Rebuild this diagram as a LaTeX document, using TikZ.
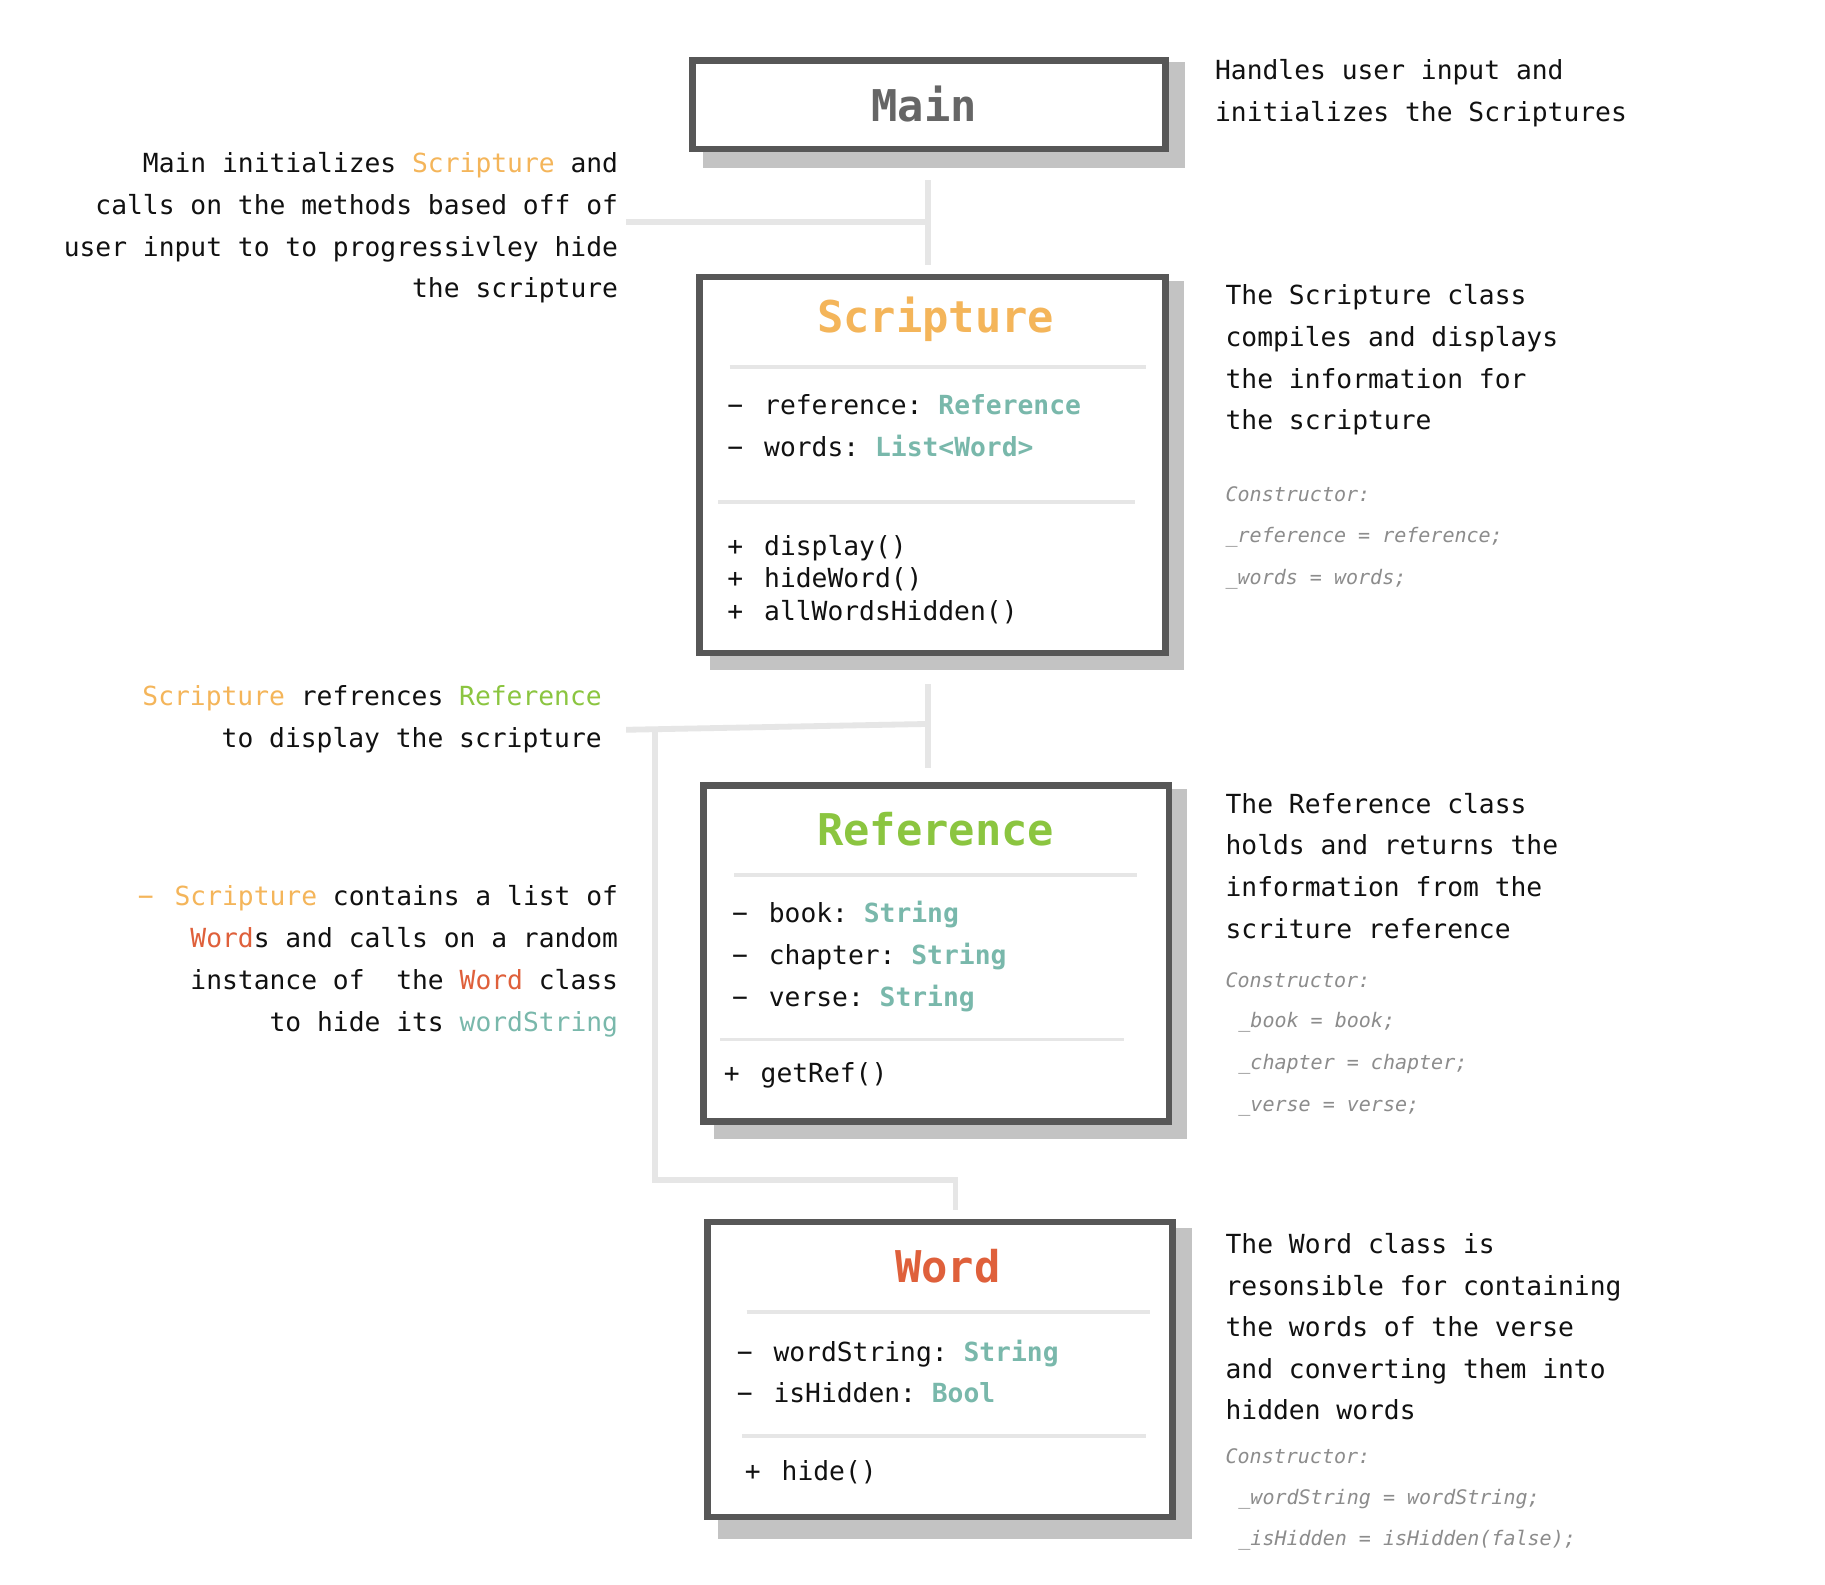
\documentclass[tikz,border=0pt]{standalone}
\usepackage{fontspec}
\setmonofont{DejaVu Sans Mono}
\usetikzlibrary{calc,backgrounds}
\definecolor{boxline}{HTML}{575757}
\definecolor{shadowc}{HTML}{C3C3C3}
\definecolor{sepc}{HTML}{E6E6E6}
\definecolor{connc}{HTML}{E6E6E6}
\definecolor{orng}{HTML}{F4B55A}
\definecolor{grn}{HTML}{8BC540}
\definecolor{tealc}{HTML}{79B8AB}
\definecolor{redw}{HTML}{DF603B}
\definecolor{maingray}{HTML}{666666}
\definecolor{consc}{HTML}{8C8C8C}
\definecolor{ink}{HTML}{111111}
\newcommand{\bul}[1]{\makebox[15.8pt][l]{#1}}
\newcommand{\ty}[1]{\textcolor{tealc}{\bfseries #1}}
\tikzset{
  boxst/.style={draw=boxline, line width=2.8pt, fill=white, rectangle, inner sep=0pt},
  shad/.style={fill=shadowc},
  conn/.style={draw=connc, line width=2.5pt},
  sepl/.style={draw=sepc, line width=1.6pt},
  txt/.style={inner sep=0pt, outer sep=0pt, text=ink, font=\ttfamily\fontsize{11.3}{13.6}\selectfont},
  ttl/.style={inner sep=0pt, outer sep=0pt, anchor=base, font=\ttfamily\bfseries\fontsize{18.8}{22}\selectfont},
  cons/.style={inner sep=0pt, outer sep=0pt, anchor=base west, text=consc, font=\ttfamily\itshape\fontsize{8.6}{10}\selectfont},
  lw/.style={txt, anchor=base west},
  le/.style={txt, anchor=base east},
}
\begin{document}
\begin{tikzpicture}[x=0.5pt,y=-0.5pt]
\useasboundingbox (0,0) rectangle (1568,1361);

% ---------- class boxes ----------
\node[boxst, minimum width=203.2pt, minimum height=38.2pt] (main) at (798,90) {};
\node[boxst, minimum width=200.2pt, minimum height=161.7pt] (scr) at (801,399.5) {};
\node[boxst, minimum width=199.95pt, minimum height=144.45pt] (ref) at (804.25,819.25) {};
\node[boxst, minimum width=199.7pt, minimum height=126.7pt] (wrd) at (807.5,1176.5) {};

\begin{scope}[on background layer]
  \fill[white] (0,0) rectangle (1568,1361);
  \fill[shad] ($(main.north west)+(12,4)$) rectangle ($(main.south east)+(14,13)$);
  \fill[shad] ($(scr.north west)+(12,6)$) rectangle ($(scr.south east)+(13,12)$);
  \fill[shad] ($(ref.north west)+(12,6)$) rectangle ($(ref.south east)+(13,12)$);
  \fill[shad] ($(wrd.north west)+(12,8)$) rectangle ($(wrd.south east)+(14,16)$);
\end{scope}

% ---------- connectors ----------
\coordinate (c1t) at (797,155);
\coordinate (c1b) at (797,228);
\coordinate (c1l) at (538,191);
\coordinate (c1m) at (797,191);
\draw[conn] (c1t) -- (c1b);
\draw[conn] (c1l) -- (c1m);

\coordinate (c2t) at (797,588);
\coordinate (c2b) at (797,660);
\coordinate (c2l) at (538,627);
\coordinate (c2m) at (797,622);
\coordinate (c2j) at (563,626);
\coordinate (c2d) at (563,1014);
\coordinate (c2r) at (821,1014);
\coordinate (c2e) at (821,1040);
\draw[conn] (c2t) -- (c2b);
\draw[conn] (c2l) -- (c2m);
\draw[conn] (c2j) -- (c2d) -- (c2r) -- (c2e);

% ---------- Main ----------
\node[ttl, text=maingray] (mainT) at (794,104.5) {Main};
\node[lw] (mr1) at (1044,68) {Handles user input and};
\node[lw] (mr2) at (1044,104) {initializes the Scriptures};

\node[le] (l11) at (531,148) {Main initializes \textcolor{orng}{Scripture} and};
\node[le] (l12) at (531,184) {calls on the methods based off of};
\node[le] (l13) at (531,220) {user input to to progressivley hide};
\node[le] (l14) at (531,256) {the scripture};

% ---------- Scripture ----------
\node[ttl, text=orng] (scrT) at (804,286) {Scripture};
\draw[sepl] (627,315) -- (985,315);
\draw[sepl] (617,431) -- (975,431);
\node[lw] (sa1) at (625,356.5) {\bul{−}reference: \ty{Reference}};
\node[lw] (sa2) at (625,392) {\bul{−}words: \ty{List<Word>}};
\node[lw] (sm1) at (625,477) {\bul{+}display()};
\node[lw] (sm2) at (625,505) {\bul{+}hideWord()};
\node[lw] (sm3) at (625,533) {\bul{+}allWordsHidden()};

\node[lw] (sr1) at (1053,262) {The Scripture class};
\node[lw] (sr2) at (1053,298) {compiles and displays};
\node[lw] (sr3) at (1053,334) {the information for};
\node[lw] (sr4) at (1053,369) {the scripture};
\node[cons] (sc1) at (1053,431) {Constructor:};
\node[cons] (sc2) at (1053,466.5) {\_reference = reference;};
\node[cons] (sc3) at (1053,502.5) {\_words = words;};

\node[le] (l21) at (517,606) {\textcolor{orng}{Scripture} refrences \textcolor{grn}{Reference}};
\node[le] (l22) at (517,642) {to display the scripture};

% ---------- Reference ----------
\node[ttl, text=grn] (refT) at (804,726) {Reference};
\draw[sepl] (631,752) -- (977,752);
\draw[sepl] (619,893) -- (966,893);
\node[lw] (ra1) at (629,793) {\bul{−}book: \ty{String}};
\node[lw] (ra2) at (629,829) {\bul{−}chapter: \ty{String}};
\node[lw] (ra3) at (629,865) {\bul{−}verse: \ty{String}};
\node[lw] (rm1) at (622,930) {\bul{+}getRef()};

\node[lw] (rr1) at (1053,699) {The Reference class};
\node[lw] (rr2) at (1053,734) {holds and returns the};
\node[lw] (rr3) at (1053,770) {information from the};
\node[lw] (rr4) at (1053,806) {scriture reference};
\node[cons] (rc1) at (1053,848) {Constructor:};
\node[cons] (rc2) at (1064,883) {\_book = book;};
\node[cons] (rc3) at (1064,919) {\_chapter = chapter;};
\node[cons] (rc4) at (1064,955) {\_verse = verse;};

\node[le] (l31) at (531,778) {\textcolor{orng}{\bul{−}Scripture} contains a list of};
\node[le] (l32) at (531,814) {\textcolor{redw}{Word}s and calls on a random};
\node[le] (l33) at (531,850) {instance of\ \ the \textcolor{redw}{Word} class};
\node[le] (l34) at (531,886) {to hide its \textcolor{tealc}{wordString}};

% ---------- Word ----------
\node[ttl, text=redw] (wrdT) at (814.3,1102) {Word};
\draw[sepl] (641.5,1127) -- (988,1127);
\draw[sepl] (637.6,1234) -- (984.6,1234);
\node[lw] (wa1) at (633,1170) {\bul{−}wordString: \ty{String}};
\node[lw] (wa2) at (633,1205) {\bul{−}isHidden: \ty{Bool}};
\node[lw] (wm1) at (640,1272) {\bul{+}hide()};

\node[lw] (wr1) at (1053,1077) {The Word class is};
\node[lw] (wr2) at (1053,1113) {resonsible for containing};
\node[lw] (wr3) at (1053,1148.5) {the words of the verse};
\node[lw] (wr4) at (1053,1184) {and converting them into};
\node[lw] (wr5) at (1053,1220) {hidden words};
\node[cons] (wc1) at (1053,1257) {Constructor:};
\node[cons] (wc2) at (1064,1293) {\_wordString = wordString;};
\node[cons] (wc3) at (1064,1328) {\_isHidden = isHidden(false);};
\end{tikzpicture}
\end{document}
